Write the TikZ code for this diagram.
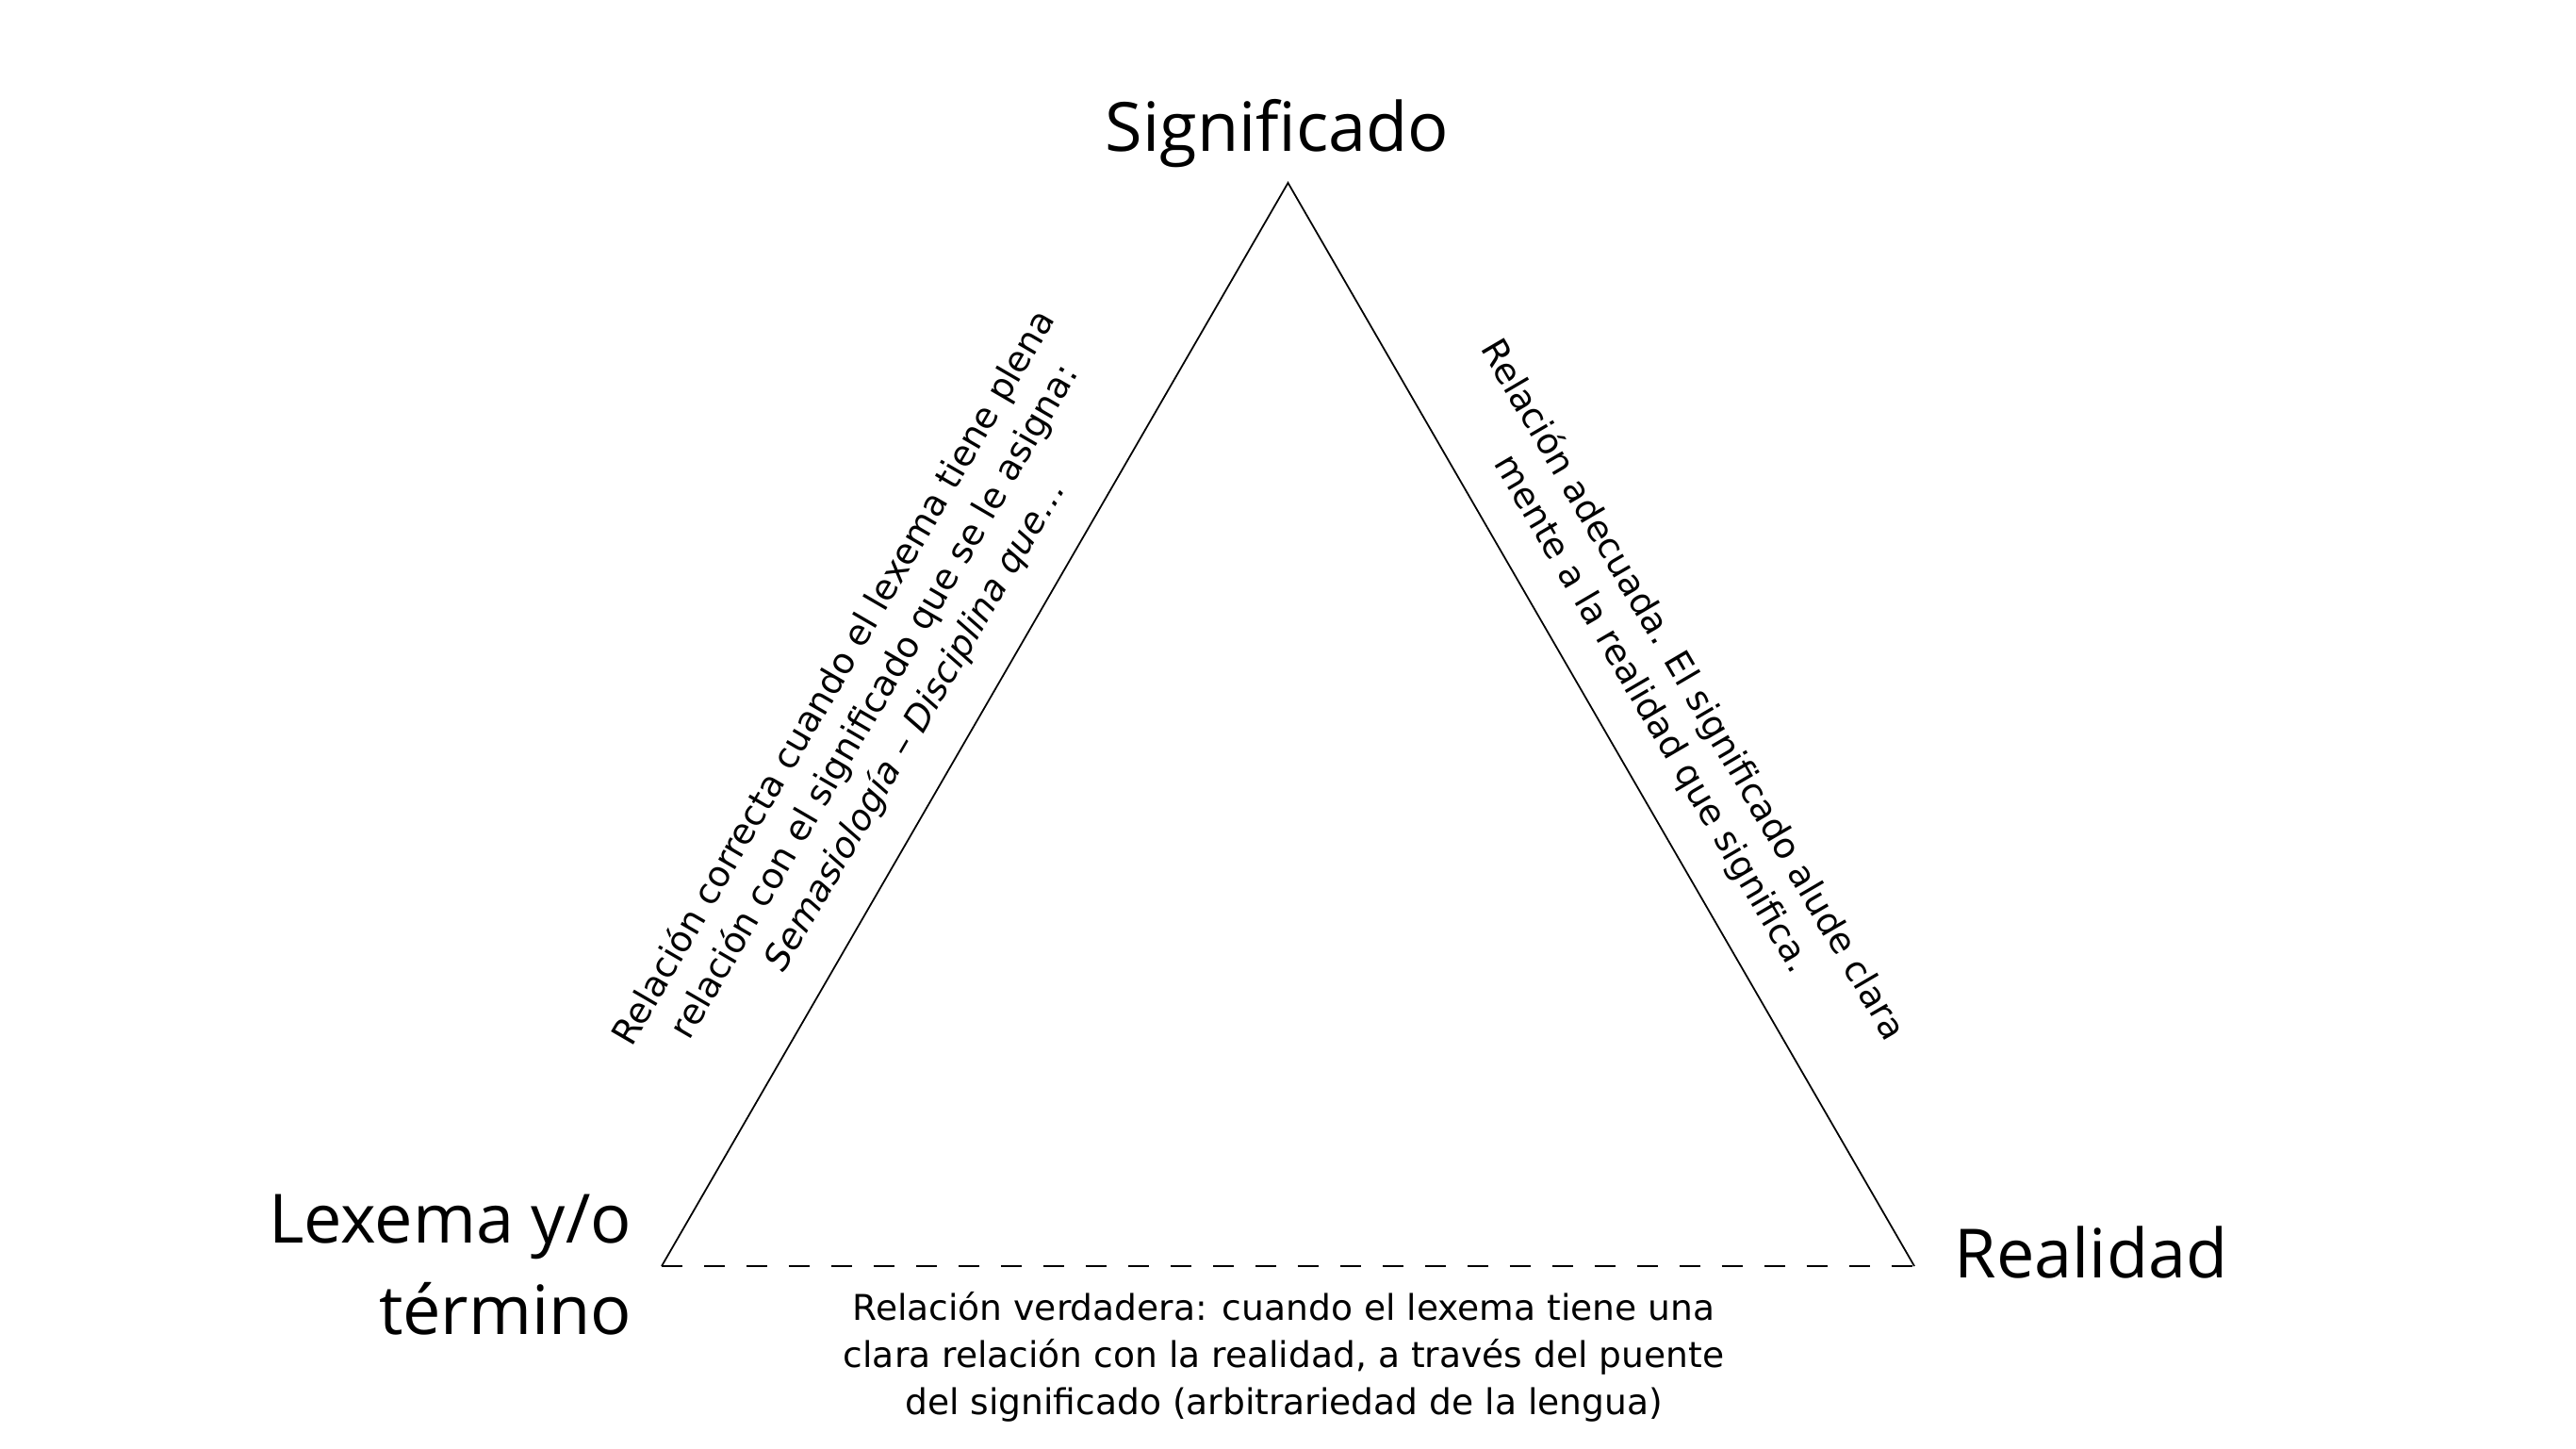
\documentclass[tikz,border=0pt]{standalone}
\usepackage{fontspec}
\setmainfont{Open Sans}
\newfontfamily\notefont{DejaVu Sans}
\usetikzlibrary{positioning, calc}

\begin{document}
\begin{tikzpicture}[
    side/.style={draw=black, line width=0.5pt},
    dashside/.style={side, dash pattern=on 6.3pt off 6.5pt},
    vertex_label/.style={inner sep=0pt, font=\fontsize{20.5}{27.6}\selectfont},
    note/.style={inner sep=0pt, align=center, font=\notefont\fontsize{10.7}{14.2}\selectfont}
]

\useasboundingbox (0, 0) rectangle (27.33, 15.37);

% ================= Vertices =================

\coordinate (sig) at (13.665, 13.43);
\coordinate (lex) at (7.02, 1.94);
\coordinate (real) at (20.31, 1.94);

% ================= Labels =================

\node[vertex_label, anchor=base] (sig_txt) at (13.55, 13.765) {Significado};
\node[vertex_label, anchor=base east, align=right] (lex_txt) at (6.71, 1.21) {Lexema y/o\\término};
\node[vertex_label, anchor=base west] (real_txt) at (20.73, 1.81) {Realidad};

% Relations along each side
\node[note, rotate=59.78] (lex_sig) at (9.285, 7.924) {
    Relación correcta cuando el lexema tiene plena\\
    relación con el significado que se le asigna:\\
    \textit{Semasiología – Disciplina que…}
};
\node[note, rotate=-59.64] (sig_real) at (17.74, 7.92) {
    Relación adecuada. El significado alude clara\\
    mente a la realidad que significa.
};
\node[note] (lex_real) at (13.62, 0.98) {
    Relación verdadera: cuando el lexema tiene una\\
    clara relación con la realidad, a través del puente\\
    del significado (arbitrariedad de la lengua)
};

% ================= Edges =================

\draw[side] (lex) -- (sig) -- (real);
\draw[dashside] (lex) -- (real);

\end{tikzpicture}
\end{document}
